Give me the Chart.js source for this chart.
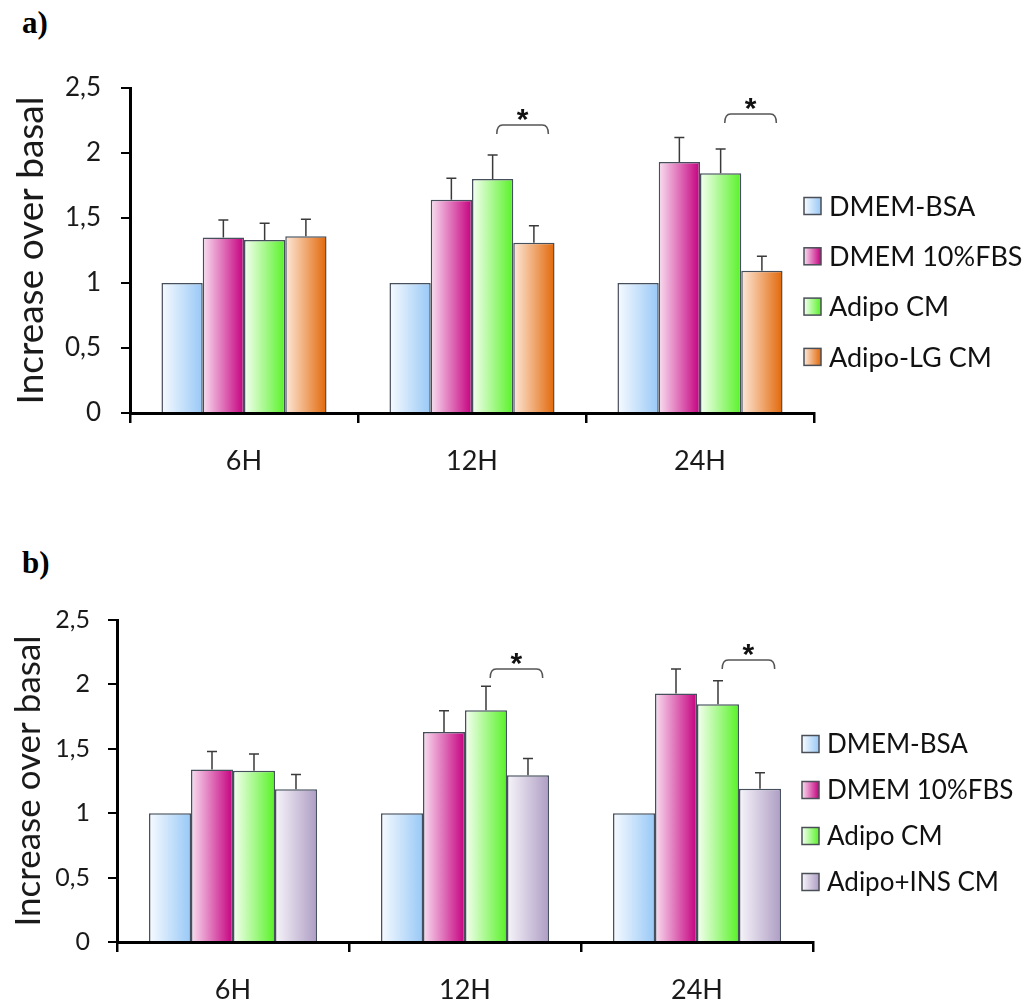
<!DOCTYPE html>
<html lang="en">
<head>
    <meta charset="UTF-8">
    <title>Increase over basal</title>
    <script src="https://cdn.jsdelivr.net/npm/chart.js@4.4.1/dist/chart.umd.min.js"></script>
    <style>
        body {
            margin: 0;
            background: #fff;
            width: 1030px;
            height: 1007px;
            position: relative;
            overflow: hidden;
            font-family: Lato, sans-serif;
        }
        .panel { position: absolute; left: 0; width: 1030px; }
        #wrapA { top: 0; height: 510px; }
        #wrapB { top: 520px; height: 487px; }
        .tag {
            position: absolute;
            left: 22px;
            font-family: 'Liberation Serif', serif;
            font-weight: bold;
            font-size: 31px;
            color: #000;
        }
    </style>
</head>
<body>
    <div class="tag" style="top:5px">a)</div>
    <div class="tag" style="top:545px">b)</div>
    <div id="wrapA" class="panel"><canvas id="chartA"></canvas></div>
    <div id="wrapB" class="panel"><canvas id="chartB"></canvas></div>

    <script>
        // categories and tick labels
        const hours = ['6H', '12H', '24H'];
        const yTickLabels = ['0', '0,5', '1', '1,5', '2', '2,5'];

        // panel a)
        const namesA = ['DMEM-BSA', 'DMEM 10%FBS', 'Adipo CM', 'Adipo-LG CM'];
        const dmemBsaA = [1.00, 1.00, 1.00];
        const dmemFbsA = [1.35, 1.64, 1.93];
        const adipoA = [1.33, 1.80, 1.845];
        const adipoLgA = [1.36, 1.31, 1.095];
        const dmemBsaErrA = [0, 0, 0];
        const dmemFbsErrA = [0.135, 0.165, 0.19];
        const adipoErrA = [0.13, 0.185, 0.185];
        const adipoLgErrA = [0.13, 0.13, 0.11];
        const sigA = [null, 2.215, 2.30];   // bracket height, Adipo CM vs last group

        // panel b)
        const namesB = ['DMEM-BSA', 'DMEM 10%FBS', 'Adipo CM', 'Adipo+INS CM'];
        const dmemBsaB = [1.00, 1.00, 1.00];
        const dmemFbsB = [1.34, 1.63, 1.93];
        const adipoB = [1.33, 1.80, 1.845];
        const adipoInsB = [1.185, 1.295, 1.19];
        const dmemBsaErrB = [0, 0, 0];
        const dmemFbsErrB = [0.14, 0.165, 0.19];
        const adipoErrB = [0.13, 0.185, 0.183];
        const adipoInsErrB = [0.116, 0.13, 0.124];
        const sigB = [null, 2.12, 2.19];

        // light -> dark colour of each bar gradient
        const blueG = ['#f7fbff', '#98c8f6'];
        const magentaG = ['#f9def0', '#c5007f'];
        const greenG = ['#f6fff2', '#58f228'];
        const orangeG = ['#fde9da', '#e2680a'];
        const lilacG = ['#f7f5fa', '#ae9dc4'];

        function makeGradient(ctx, x0, x1, stops) {
            const g = ctx.createLinearGradient(x0, 0, x1, 0);
            g.addColorStop(0, stops[0]);
            g.addColorStop(1, stops[1]);
            return g;
        }

        // paints each bar with a left-to-right gradient
        const gradientBars = {
            id: 'gradientBars',
            beforeDatasetsDraw(chart) {
                chart.data.datasets.forEach((ds, i) => {
                    chart.getDatasetMeta(i).data.forEach(el => {
                        const half = el.width / 2;
                        el.options.backgroundColor = makeGradient(chart.ctx, el.x - half, el.x + half, ds.grad);
                    });
                });
            }
        };

        // upper error bars
        const errorBars = {
            id: 'errorBars',
            afterDatasetsDraw(chart) {
                const ctx = chart.ctx;
                const y = chart.scales.y;
                ctx.save();
                ctx.strokeStyle = '#3a3a3a';
                ctx.lineWidth = 1.5;
                chart.data.datasets.forEach((ds, i) => {
                    chart.getDatasetMeta(i).data.forEach((el, j) => {
                        const e = ds.err[j];
                        if (!e) return;
                        const top = y.getPixelForValue(ds.data[j] + e);
                        ctx.beginPath();
                        ctx.moveTo(el.x, el.y);
                        ctx.lineTo(el.x, top);
                        ctx.moveTo(el.x - 5, top);
                        ctx.lineTo(el.x + 5, top);
                        ctx.stroke();
                    });
                });
                ctx.restore();
            }
        };

        // significance bracket with asterisk
        const sigBrackets = {
            id: 'sigBrackets',
            afterDatasetsDraw(chart, args, opts) {
                const ctx = chart.ctx;
                const y = chart.scales.y;
                const from = chart.getDatasetMeta(opts.from).data;
                const to = chart.getDatasetMeta(opts.to).data;
                opts.levels.forEach((lvl, i) => {
                    if (lvl == null) return;
                    const x1 = from[i].x + from[i].width * 0.1;
                    const x2 = to[i].x + to[i].width * 0.35;
                    const yt = y.getPixelForValue(lvl);
                    ctx.save();
                    ctx.strokeStyle = '#555';
                    ctx.lineWidth = 1.5;
                    ctx.beginPath();
                    ctx.moveTo(x1, yt + 9);
                    ctx.quadraticCurveTo(x1, yt, x1 + 6, yt);
                    ctx.lineTo(x2 - 6, yt);
                    ctx.quadraticCurveTo(x2, yt, x2, yt + 9);
                    ctx.stroke();
                    ctx.fillStyle = '#111';
                    ctx.font = 'bold 30px "Liberation Sans"';
                    ctx.textAlign = 'center';
                    ctx.textBaseline = 'alphabetic';
                    ctx.fillText('*', (x1 + x2) / 2, yt + 4);
                    ctx.restore();
                });
            }
        };

        // legend on the right with gradient squares
        const boxLegend = {
            id: 'boxLegend',
            afterDraw(chart, args, opts) {
                const ctx = chart.ctx;
                const s = 17;
                ctx.save();
                ctx.font = opts.font;
                ctx.textBaseline = 'middle';
                chart.data.datasets.forEach((ds, i) => {
                    const cy = opts.top + i * opts.gap;
                    ctx.fillStyle = makeGradient(ctx, opts.x, opts.x + s, ds.grad);
                    ctx.fillRect(opts.x, cy - s / 2, s, s);
                    ctx.strokeStyle = '#4a4f57';
                    ctx.lineWidth = 1.5;
                    ctx.strokeRect(opts.x, cy - s / 2, s, s);
                    ctx.fillStyle = '#111';
                    ctx.fillText(ds.label, opts.x + s + 8, cy + 1);
                });
                ctx.restore();
            }
        };

        function buildChart(id, names, series, errs, grads, sig, geo) {
            const datasets = names.map((n, i) => ({
                label: n,
                data: series[i],
                err: errs[i],
                grad: grads[i],
                backgroundColor: () => grads[i][1],
                borderColor: '#46505c',
                borderWidth: 1.5,
                categoryPercentage: 0.724,
                barPercentage: 1
            }));
            return new Chart(document.getElementById(id), {
                type: 'bar',
                data: { labels: hours, datasets: datasets },
                plugins: [gradientBars, errorBars, sigBrackets, boxLegend],
                options: {
                    responsive: true,
                    maintainAspectRatio: false,
                    animation: false,
                    layout: { padding: { top: geo.top, right: geo.right, left: 0, bottom: 0 } },
                    plugins: {
                        legend: { display: false },
                        tooltip: { enabled: false },
                        sigBrackets: { from: 2, to: 3, levels: sig },
                        boxLegend: { x: geo.legX, top: geo.legTop, gap: geo.legGap, font: geo.legFont }
                    },
                    scales: {
                        x: {
                            afterFit: s => { s.height = geo.xHeight; },
                            grid: { offset: true, drawOnChartArea: false, drawTicks: true, tickLength: 10, color: '#000', lineWidth: 2.5 },
                            border: { color: '#000', width: 3 },
                            ticks: { color: '#1a1a1a', font: { family: 'Lato', size: 27 }, padding: 22 }
                        },
                        y: {
                            min: 0,
                            max: 2.5,
                            afterFit: s => { s.width = geo.yWidth; },
                            grid: { drawOnChartArea: false, drawTicks: true, tickLength: 9, color: '#000', lineWidth: 2 },
                            border: { color: '#000', width: 3 },
                            ticks: {
                                stepSize: 0.5,
                                color: '#1a1a1a',
                                font: { family: 'Lato', size: geo.tickSize },
                                padding: geo.yPad,
                                callback: (v, i) => yTickLabels[i]
                            },
                            title: {
                                display: true,
                                text: 'Increase over basal',
                                color: '#1a1a1a',
                                font: { family: 'Lato', size: geo.titleSize },
                                padding: { top: geo.titleTop, bottom: 0 }
                            }
                        }
                    }
                }
            });
        }

        buildChart('chartA', namesA,
            [dmemBsaA, dmemFbsA, adipoA, adipoLgA],
            [dmemBsaErrA, dmemFbsErrA, adipoErrA, adipoLgErrA],
            [blueG, magentaG, greenG, orangeG], sigA,
            { top: 88, right: 216, xHeight: 97, yWidth: 130, yPad: 20, tickSize: 26, titleSize: 37, titleTop: 9,
              legX: 804, legTop: 206, legGap: 50.3, legFont: '27px Lato' });

        buildChart('chartB', namesB,
            [dmemBsaB, dmemFbsB, adipoB, adipoInsB],
            [dmemBsaErrB, dmemFbsErrB, adipoErrB, adipoInsErrB],
            [blueG, magentaG, greenG, lilacG], sigB,
            { top: 100, right: 217, xHeight: 65, yWidth: 117, yPad: 18, tickSize: 25, titleSize: 35, titleTop: 8,
              legX: 802, legTop: 224, legGap: 46, legFont: '26px Lato' });
    </script>
</body>
</html>
